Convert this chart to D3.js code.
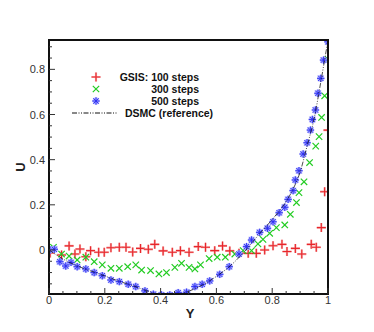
<!DOCTYPE html>
<html>
 <head>
    <style>
        body { margin: 0; background: #fff; }
        svg { display: block; }
        text { font-family: "Liberation Sans", Arial, sans-serif; }
    </style>
    <script src="https://d3js.org/d3.v7.min.js"></script>
 </head>
 <body>
    <div id="chart"></div>
    <script type="text/javascript">
        // GSIS 100 steps (red +)
        const y100 = [0.004, 0.045, 0.072, 0.093, 0.111, 0.132, 0.149, 0.178, 0.198, 0.222, 0.252, 0.276, 0.300, 0.328, 0.356, 0.379, 0.409, 0.442, 0.471, 0.502, 0.535, 0.561, 0.594, 0.622, 0.648, 0.681, 0.714, 0.743, 0.773, 0.803, 0.835, 0.853, 0.883, 0.906, 0.940, 0.958, 0.976, 0.988, 1.0];
        const u100 = [-0.013, -0.022, 0.018, -0.018, 0.004, -0.03, -0.003, -0.01, -0.01, 0.01, 0.012, 0.012, -0.009, 0.007, 0.003, 0.025, -0.004, -0.01, -0.003, -0.01, 0.015, 0.012, -0.003, 0.018, -0.004, -0.015, -0.015, -0.015, 0.0, 0.019, 0.025, -0.007, 0.007, -0.018, 0.025, 0.012, 0.099, 0.258, 0.531];

        // 300 steps (green x)
        const y300 = [0.016, 0.045, 0.072, 0.101, 0.132, 0.162, 0.191, 0.222, 0.252, 0.282, 0.311, 0.332, 0.364, 0.394, 0.421, 0.451, 0.475, 0.502, 0.523, 0.543, 0.574, 0.603, 0.632, 0.666, 0.696, 0.726, 0.749, 0.767, 0.791, 0.815, 0.845, 0.865, 0.887, 0.896, 0.914, 0.934, 0.956, 0.968, 0.977, 0.988, 1.0];
        const u300 = [0.012, -0.018, -0.027, -0.044, -0.032, -0.052, -0.066, -0.081, -0.081, -0.074, -0.066, -0.089, -0.091, -0.106, -0.1, -0.077, -0.059, -0.077, -0.084, -0.066, -0.038, -0.032, -0.032, -0.018, -0.003, -0.003, 0.027, 0.047, 0.074, 0.099, 0.111, 0.158, 0.21, 0.254, 0.302, 0.387, 0.46, 0.502, 0.587, 0.683, 0.844];

        // 500 steps (blue *)
        const y500 = [0.004, 0.019, 0.039, 0.06, 0.079, 0.101, 0.132, 0.162, 0.191, 0.222, 0.252, 0.284, 0.311, 0.344, 0.374, 0.403, 0.433, 0.463, 0.493, 0.523, 0.549, 0.576, 0.612, 0.646, 0.681, 0.708, 0.726, 0.755, 0.783, 0.803, 0.825, 0.845, 0.857, 0.875, 0.883, 0.896, 0.911, 0.925, 0.937, 0.944, 0.955, 0.964, 0.974, 0.984, 1.0];
        const u500 = [0.0, 0.003, -0.052, -0.071, -0.055, -0.074, -0.084, -0.1, -0.114, -0.133, -0.14, -0.152, -0.162, -0.181, -0.196, -0.199, -0.199, -0.189, -0.187, -0.162, -0.152, -0.137, -0.108, -0.074, -0.018, 0.015, 0.044, 0.078, 0.096, 0.125, 0.165, 0.189, 0.224, 0.263, 0.31, 0.351, 0.425, 0.475, 0.531, 0.578, 0.62, 0.694, 0.76, 0.841, 0.922];

        // DSMC reference line
        const yDsmc = [0, 0.05, 0.1, 0.15, 0.2, 0.25, 0.3, 0.35, 0.4, 0.45, 0.5, 0.55, 0.6, 0.65, 0.7, 0.75, 0.8, 0.85, 0.875, 0.9, 0.925, 0.95, 0.975, 1.0];
        const uDsmc = [0.0, -0.04, -0.07, -0.093, -0.115, -0.138, -0.158, -0.18, -0.197, -0.198, -0.183, -0.155, -0.117, -0.07, -0.008, 0.065, 0.135, 0.215, 0.27, 0.345, 0.46, 0.58, 0.75, 0.93];

        const xTicks = [0, 0.2, 0.4, 0.6, 0.8, 1];
        const yTicks = [0, 0.2, 0.4, 0.6, 0.8];
        const legendLabels = ["GSIS: 100 steps", "300 steps", "500 steps", "DSMC (reference)"];

        const W = 374, H = 332;
        const svg = d3.select("#chart").append("svg").attr("width", W).attr("height", H);

        const x = d3.scaleLinear().domain([0, 1]).range([49, 328]);
        const y = d3.scaleLinear().domain([-0.195, 0.93]).range([294, 40]);

        svg.append("clipPath").attr("id", "clip")
            .append("rect").attr("x", 49).attr("y", 40).attr("width", 279).attr("height", 254);

        const plot = svg.append("g").attr("clip-path", "url(#clip)");

        // marker drawers
        function plus(g, cx, cy, r) {
            g.append("path").attr("d", `M${cx - r},${cy}H${cx + r}M${cx},${cy - r}V${cy + r}`);
        }
        function cross(g, cx, cy, r) {
            g.append("path").attr("d", `M${cx - r},${cy - r}L${cx + r},${cy + r}M${cx - r},${cy + r}L${cx + r},${cy - r}`);
        }
        function star(g, cx, cy, r) {
            const d = r * 0.72;
            g.append("path").attr("d", `M${cx - r},${cy}H${cx + r}M${cx},${cy - r}V${cy + r}M${cx - d},${cy - d}L${cx + d},${cy + d}M${cx - d},${cy + d}L${cx + d},${cy - d}`);
        }

        function drawRed(g, cx, cy) {
            const h = g.append("g").attr("stroke", "#f6b0b0").attr("stroke-width", 2.2).attr("fill", "none");
            plus(h, cx, cy, 4.5);
            const m = g.append("g").attr("stroke", "#e8252a").attr("stroke-width", 1.1).attr("fill", "none");
            plus(m, cx, cy, 4.5);
        }
        function drawGreen(g, cx, cy) {
            const m = g.append("g").attr("stroke", "#22cc22").attr("stroke-width", 1.2).attr("fill", "none");
            cross(m, cx, cy, 3.2);
        }
        function drawBlue(g, cx, cy) {
            const h = g.append("g").attr("stroke", "#a8aaff").attr("stroke-width", 2.2).attr("fill", "none");
            star(h, cx, cy, 3.7);
            const m = g.append("g").attr("stroke", "#2a2cf0").attr("stroke-width", 0.9).attr("fill", "none");
            star(m, cx, cy, 3.7);
        }

        // DSMC line
        const line = d3.line().x(d => x(d[0])).y(d => y(d[1])).curve(d3.curveMonotoneX);
        const dsmcPath = () => plot.append("path")
            .datum(d3.zip(yDsmc, uDsmc))
            .attr("d", line)
            .attr("fill", "none")
            .attr("stroke", "#111")
            .attr("stroke-width", 1)
            .attr("stroke-dasharray", "5,1.5,1,1.5,1,1.5");

        d3.zip(y100, u100).forEach(p => drawRed(plot, x(p[0]), y(p[1])));
        d3.zip(y300, u300).forEach(p => drawGreen(plot, x(p[0]), y(p[1])));
        d3.zip(y500, u500).forEach(p => drawBlue(plot, x(p[0]), y(p[1])));
        dsmcPath().attr("stroke-opacity", 0.75);

        // frame
        svg.append("rect").attr("x", 49).attr("y", 40).attr("width", 279).attr("height", 254)
            .attr("fill", "none").attr("stroke", "#111").attr("stroke-width", 2);

        // ticks (inward)
        const ax = svg.append("g").attr("stroke", "#333").attr("stroke-width", 1);
        d3.range(0, 21).map(i => i * 0.05).forEach(v => {
            const major = Math.abs(v * 5 - Math.round(v * 5)) < 1e-6;
            ax.append("line").attr("x1", x(v)).attr("x2", x(v))
                .attr("y1", 294).attr("y2", 294 - (major ? 6 : 3));
        });
        d3.range(-3, 19).map(i => i * 0.05).forEach(v => {
            const major = Math.abs(v * 5 - Math.round(v * 5)) < 1e-6;
            ax.append("line").attr("y1", y(v)).attr("y2", y(v))
                .attr("x1", 49).attr("x2", 49 + (major ? 6 : 3));
        });

        const fmt = d => d === 0 ? "0" : (d === 1 ? "1" : d3.format(".1f")(d));
        svg.append("g").selectAll("text").data(xTicks).join("text")
            .attr("x", d => x(d)).attr("y", 304)
            .attr("text-anchor", "middle")
            .attr("font-size", 11).attr("fill", "#333")
            .text(fmt);
        svg.append("g").selectAll("text").data(yTicks).join("text")
            .attr("x", 45).attr("y", d => y(d) + 4)
            .attr("text-anchor", "end")
            .attr("font-size", 11).attr("fill", "#333")
            .text(fmt);

        // axis titles
        svg.append("text").attr("x", 190).attr("y", 318)
            .attr("text-anchor", "middle").attr("font-size", 13).attr("font-weight", "bold")
            .attr("fill", "#222").text("Y");
        svg.append("text").attr("transform", "translate(25,167) rotate(-90)")
            .attr("text-anchor", "middle").attr("font-size", 13).attr("font-weight", "bold")
            .attr("fill", "#222").text("U");

        // legend
        const leg = svg.append("g");
        drawRed(leg, 96, 77);
        drawGreen(leg, 96, 89);
        drawBlue(leg, 96, 101);
        leg.append("line").attr("x1", 72).attr("x2", 118).attr("y1", 113).attr("y2", 113)
            .attr("stroke", "#111").attr("stroke-width", 1)
            .attr("stroke-dasharray", "5,1.5,1,1.5,1,1.5");
        const rows = [77, 89, 101, 113];
        legendLabels.forEach((t, i) => {
            leg.append("text")
                .attr("x", i < 3 ? 199 : 125).attr("y", rows[i] + 4)
                .attr("text-anchor", i < 3 ? "end" : "start")
                .attr("font-size", 10.5).attr("font-weight", "bold").attr("fill", "#111")
                .text(t);
        });
    </script>
 </body>
</html>
